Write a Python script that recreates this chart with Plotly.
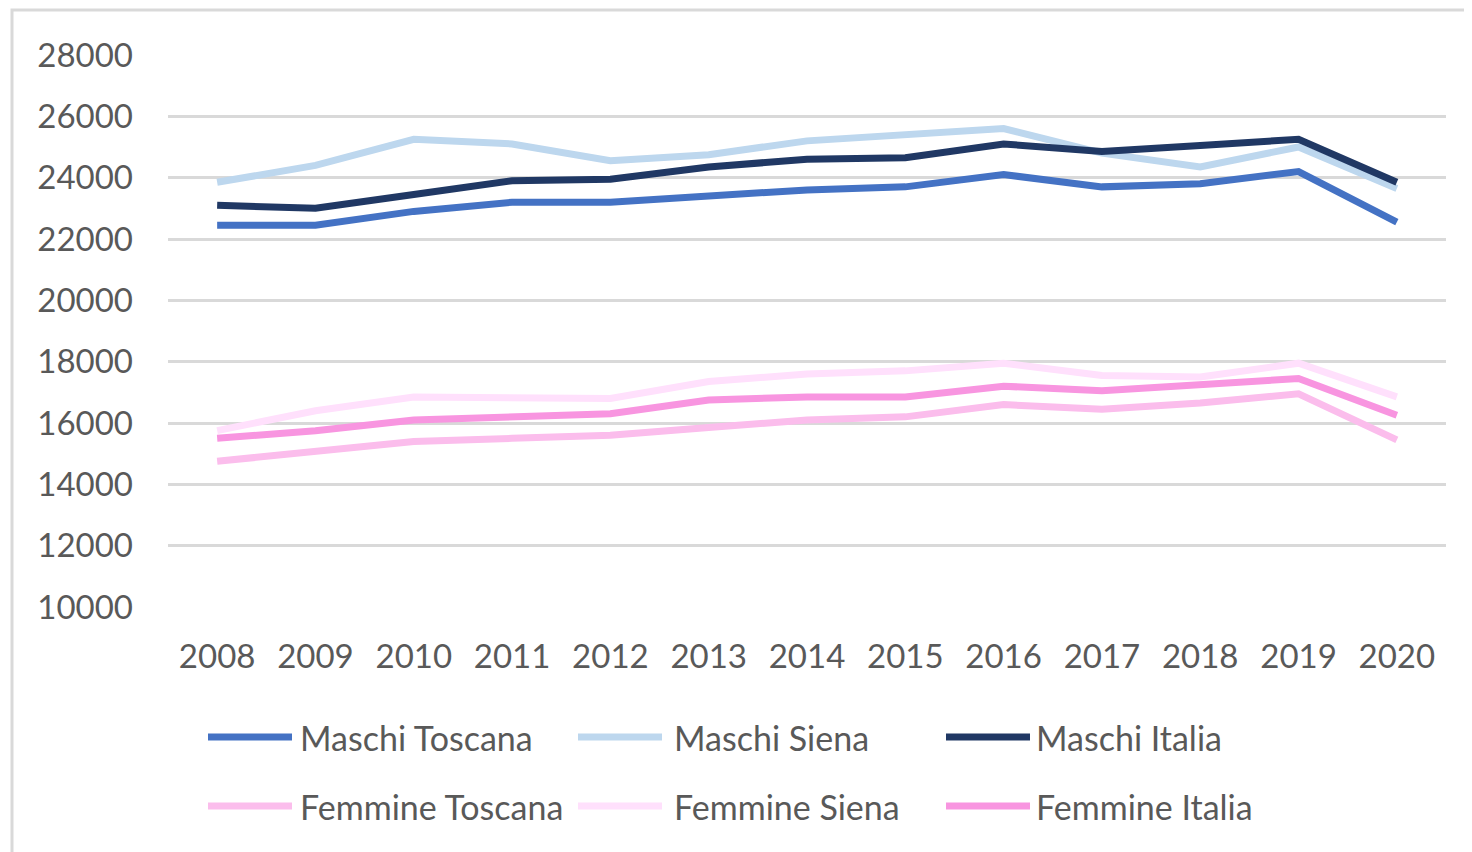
import plotly.graph_objects as go

years = ["2008", "2009", "2010", "2011", "2012", "2013", "2014",
         "2015", "2016", "2017", "2018", "2019", "2020"]

maschi_toscana = [22450, 22450, 22900, 23200, 23200, 23400, 23600,
                  23700, 24100, 23700, 23800, 24200, 22550]
maschi_siena = [23850, 24400, 25250, 25100, 24550, 24750, 25200,
                25400, 25600, 24800, 24350, 25000, 23650]
maschi_italia = [23100, 23000, 23450, 23900, 23950, 24350, 24600,
                 24650, 25100, 24850, 25050, 25250, 23850]
femmine_toscana = [14750, 15050, 15400, 15500, 15600, 15850, 16100,
                   16200, 16600, 16450, 16650, 16950, 15450]
femmine_siena = [15750, 16400, 16850, 16850, 16800, 17350, 17600,
                 17700, 17950, 17550, 17500, 17950, 16850]
femmine_italia = [15500, 15750, 16100, 16200, 16300, 16750, 16850,
                  16850, 17200, 17050, 17250, 17450, 16250]

series = [
    ("Maschi Toscana", maschi_toscana, "#4472C4"),
    ("Maschi Siena", maschi_siena, "#BDD7EE"),
    ("Maschi Italia", maschi_italia, "#203864"),
    ("Femmine Toscana", femmine_toscana, "#FBBDEC"),
    ("Femmine Siena", femmine_siena, "#FFE0FC"),
    ("Femmine Italia", femmine_italia, "#F895E0"),
]

FONT = "Lato, 'Open Sans', sans-serif"
TEXT = "#595959"

# the page puts the figure 8px in from the top-left corner
OFF = 8
W, H = 1472, 852
# plot area (page pixels): x 168..1446, y 55..607
L, T = 168 - OFF, 55 - OFF
R, B = W - (1446 - OFF), H - (607 - OFF)
pw, ph = W - L - R, H - T - B

def px_x(x):
    return (x - OFF - L) / pw

def px_y(y):
    return (H - B - (y - OFF)) / ph

fig = go.Figure()
for name, vals, color in series:
    fig.add_trace(go.Scatter(
        x=years, y=vals, name=name, mode="lines",
        line=dict(color=color, width=7), showlegend=False,
    ))

# legend built by hand: 2 rows x 3 columns, long swatches
swatch_x = [208, 578, 946]
text_x = [298, 672, 1034]
row_y = [737, 806]
shapes = []
annotations = []
for i, (name, vals, color) in enumerate(series):
    col, row = i % 3, i // 3
    y = px_y(row_y[row])
    shapes.append(dict(
        type="line", xref="paper", yref="paper",
        x0=px_x(swatch_x[col]), x1=px_x(swatch_x[col] + 84), y0=y, y1=y,
        line=dict(color=color, width=7),
    ))
    annotations.append(dict(
        text=name, xref="paper", yref="paper", x=px_x(text_x[col]), y=y,
        xanchor="left", yanchor="middle", showarrow=False,
        font=dict(family=FONT, size=34, color=TEXT),
    ))

# chart frame
shapes.append(dict(
    type="rect", xref="paper", yref="paper",
    x0=px_x(12), x1=px_x(1469), y0=px_y(10), y1=px_y(880),
    line=dict(color="#D9D9D9", width=3), layer="below",
))

fig.update_layout(
    width=W, height=H,
    margin=dict(l=L, r=R, t=T, b=B),
    paper_bgcolor="white", plot_bgcolor="white",
    font=dict(family=FONT, size=33, color=TEXT),
    shapes=shapes, annotations=annotations,
    xaxis=dict(
        type="category", range=[-0.5, 12.5], showgrid=False,
        showline=False, ticks="", ticklabelstandoff=27,
    ),
    yaxis=dict(
        range=[10000, 28000], tickvals=list(range(10000, 28001, 2000)),
        tickformat="d",
        showgrid=True, gridcolor="#D9D9D9", gridwidth=3, zeroline=False,
        showline=False, ticks="", ticklabelstandoff=34,
    ),
)

fig.write_html("out.html")
